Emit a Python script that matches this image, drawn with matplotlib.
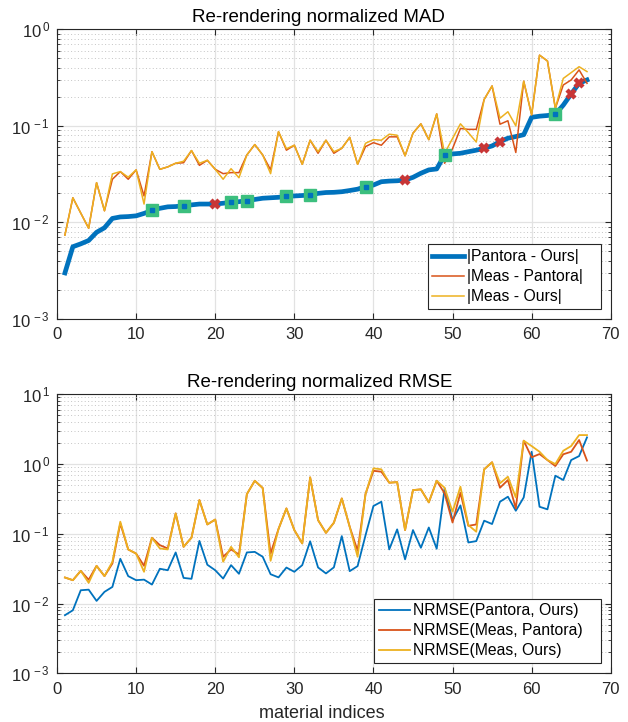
import numpy as np
import matplotlib
matplotlib.use('Agg')
import matplotlib.pyplot as plt
from matplotlib.ticker import LogLocator, NullFormatter, FuncFormatter

plt.rcParams['font.family'] = ['Liberation Sans', 'DejaVu Sans']
plt.rcParams['mathtext.fontset'] = 'custom'
plt.rcParams['mathtext.rm'] = 'Liberation Sans'
plt.rcParams['mathtext.it'] = 'Liberation Sans'
plt.rcParams['mathtext.default'] = 'regular'

# indices des matériaux
idx = np.arange(1, 68)

# --- MAD normalisé ---
mad_pantora_ours = [0.0030, 0.0056, 0.0060, 0.0065, 0.0079, 0.0088, 0.0110, 0.0114, 0.0115, 0.0117,
                    0.0124, 0.0133, 0.0140, 0.0145, 0.0146, 0.0149, 0.0152, 0.0155, 0.0155, 0.0155,
                    0.0158, 0.0162, 0.0164, 0.0168, 0.0173, 0.0178, 0.0180, 0.0182, 0.0187, 0.0188,
                    0.0190, 0.0192, 0.0200, 0.0204, 0.0205, 0.0208, 0.0214, 0.0221, 0.0235, 0.0244,
                    0.0264, 0.0268, 0.0270, 0.0275, 0.0293, 0.0323, 0.0350, 0.0358, 0.0500, 0.0512,
                    0.0520, 0.0540, 0.0560, 0.0586, 0.0620, 0.0687, 0.0745, 0.0775, 0.0810, 0.1226,
                    0.1260, 0.1280, 0.1320, 0.1640, 0.2140, 0.2760, 0.2990]
mad_meas_pantora = [0.0074, 0.018, 0.0125, 0.0087, 0.0258, 0.0132, 0.028, 0.0336, 0.028, 0.035,
                    0.0188, 0.054, 0.0355, 0.0376, 0.041, 0.0415, 0.0555, 0.039, 0.044, 0.0355,
                    0.032, 0.0328, 0.0328, 0.050, 0.064, 0.050, 0.035, 0.087, 0.056, 0.063,
                    0.040, 0.071, 0.052, 0.071, 0.052, 0.0586, 0.076, 0.040, 0.061, 0.067,
                    0.063, 0.077, 0.077, 0.049, 0.084, 0.105, 0.072, 0.133, 0.041, 0.058,
                    0.094, 0.092, 0.092, 0.188, 0.259, 0.104, 0.113, 0.053, 0.290, 0.130,
                    0.540, 0.470, 0.152, 0.265, 0.299, 0.380, 0.276]
mad_meas_ours = [0.0074, 0.018, 0.0125, 0.0087, 0.0258, 0.0132, 0.0318, 0.0336, 0.0294, 0.035,
                 0.0155, 0.054, 0.0355, 0.0376, 0.041, 0.043, 0.0555, 0.041, 0.044, 0.0355,
                 0.028, 0.036, 0.029, 0.050, 0.064, 0.050, 0.032, 0.087, 0.058, 0.063,
                 0.040, 0.071, 0.054, 0.071, 0.054, 0.0586, 0.076, 0.040, 0.066, 0.072,
                 0.071, 0.082, 0.080, 0.049, 0.084, 0.105, 0.072, 0.133, 0.052, 0.074,
                 0.105, 0.085, 0.068, 0.188, 0.259, 0.120, 0.140, 0.100, 0.290, 0.130,
                 0.540, 0.470, 0.152, 0.310, 0.356, 0.410, 0.365]
green_idx = [12, 16, 22, 24, 29, 32, 39, 49, 63]
red_idx = [20, 44, 54, 56, 65, 66]

# --- RMSE normalisé ---
rmse_pantora_ours = [0.0068, 0.0080, 0.0155, 0.0158, 0.0109, 0.0147, 0.0173, 0.0438, 0.0247, 0.0216,
                     0.0220, 0.0187, 0.0315, 0.0300, 0.0540, 0.0233, 0.0226, 0.0790, 0.0360, 0.0300,
                     0.0228, 0.0355, 0.0267, 0.0540, 0.0550, 0.0468, 0.0263, 0.0237, 0.0328, 0.0285,
                     0.0355, 0.0780, 0.0329, 0.0270, 0.0330, 0.0926, 0.0291, 0.0344, 0.0950, 0.250,
                     0.288, 0.0597, 0.1156, 0.043, 0.113, 0.063, 0.123, 0.061, 0.448, 0.157,
                     0.255, 0.075, 0.0785, 0.154, 0.138, 0.288, 0.340, 0.214, 0.332, 1.50,
                     0.244, 0.224, 0.680, 0.590, 1.14, 1.30, 2.41]
rmse_meas_pantora = [0.0236, 0.0216, 0.0294, 0.0219, 0.0347, 0.0247, 0.0375, 0.141, 0.0596, 0.052,
                     0.0347, 0.0876, 0.0687, 0.0616, 0.196, 0.065, 0.088, 0.304, 0.136, 0.160,
                     0.0468, 0.0596, 0.0505, 0.370, 0.576, 0.453, 0.052, 0.117, 0.231, 0.113,
                     0.0727, 0.644, 0.157, 0.103, 0.144, 0.321, 0.126, 0.057, 0.371, 0.800,
                     0.776, 0.540, 0.550, 0.113, 0.423, 0.433, 0.282, 0.576, 0.380, 0.145,
                     0.388, 0.130, 0.136, 0.840, 1.06, 0.457, 0.589, 0.231, 2.16, 1.25,
                     1.39, 1.14, 0.936, 1.38, 1.50, 2.21, 1.12]
rmse_meas_ours = [0.0236, 0.0216, 0.0294, 0.0198, 0.0347, 0.0247, 0.0397, 0.149, 0.0596, 0.052,
                  0.0285, 0.0876, 0.0616, 0.0596, 0.196, 0.065, 0.088, 0.304, 0.136, 0.160,
                  0.0397, 0.065, 0.046, 0.370, 0.576, 0.453, 0.041, 0.117, 0.231, 0.113,
                  0.0727, 0.644, 0.157, 0.103, 0.144, 0.321, 0.126, 0.0468, 0.371, 0.867,
                  0.840, 0.540, 0.550, 0.113, 0.423, 0.433, 0.282, 0.576, 0.457, 0.207,
                  0.473, 0.133, 0.107, 0.840, 1.06, 0.530, 0.658, 0.332, 2.16, 1.81,
                  1.50, 1.14, 1.00, 1.55, 1.81, 2.60, 2.60]

c_blue = '#0072BD'
c_red = '#D95319'
c_yellow = '#EDB120'
c_green = '#3CBF7E'
c_x = '#C83636'


def log_label(v, pos):
    # estilo MATLAB: 10 com expoente separado
    return r'$10^{\,%d}$' % int(round(np.log10(v)))


def style_axes(ax, ymin, ymax):
    ax.set_yscale('log')
    ax.set_xlim(0, 70)
    ax.set_ylim(ymin, ymax)
    ax.set_xticks(range(0, 71, 10))
    ax.yaxis.set_major_locator(LogLocator(base=10, numticks=10))
    ax.yaxis.set_major_formatter(FuncFormatter(log_label))
    ax.yaxis.set_minor_locator(LogLocator(base=10, subs=np.arange(2, 10), numticks=20))
    ax.yaxis.set_minor_formatter(NullFormatter())
    ax.set_axisbelow(True)
    ax.grid(True, which='major', color='#e2e2e2', linewidth=0.9, linestyle='-')
    ax.grid(True, which='minor', axis='y', color='#c4c4c4', linewidth=0.7, linestyle=(0, (1, 2.5)))
    ax.tick_params(which='both', direction='in', top=True, right=True, color='0.15',
                   labelcolor='0.15', labelsize=12)
    ax.tick_params(which='major', length=4)
    ax.tick_params(axis='x', which='major', pad=6)
    ax.tick_params(axis='y', which='major', pad=5)
    ax.tick_params(which='minor', length=2.5)
    for s in ax.spines.values():
        s.set_color('0.15')
        s.set_linewidth(0.8)


leg_kw = dict(loc='lower right', fontsize=11.3, fancybox=False, framealpha=1,
              edgecolor='0.15', borderaxespad=0.65, handlelength=2.0,
              handletextpad=0.2, labelspacing=0.32, borderpad=0.3)

fig = plt.figure(figsize=(6.28, 7.22), dpi=100)

# Gráfico superior
ax1 = fig.add_axes([0.0908, 0.5582, 0.8817, 0.4012])
style_axes(ax1, 1e-3, 1e0)
mpo = np.array(mad_pantora_ours)
ax1.plot(idx, mpo, color=c_blue, linewidth=3.4, label='|Pantora - Ours|   ')
ax1.plot(idx, mad_meas_pantora, color=c_red, linewidth=1.1, label='|Meas - Pantora|   ')
ax1.plot(idx, mad_meas_ours, color=c_yellow, linewidth=1.1, label='|Meas - Ours|   ')
g = np.array(green_idx)
r = np.array(red_idx)
ax1.plot(g, mpo[g - 1], 's', ms=8, color=c_green, mec=c_green)
ax1.plot(g, mpo[g - 1], 's', ms=2.2, color=c_blue, mec=c_blue)
ax1.plot(r, mpo[r - 1], 'x', ms=6, mew=3.2, color=c_x)
ax1.set_title('Re-rendering normalized MAD', fontsize=13.5, pad=5, x=0.472)
leg1 = ax1.legend(**leg_kw)
leg1.get_frame().set_linewidth(0.8)

# Gráfico inferior
ax2 = fig.add_axes([0.0908, 0.0675, 0.8817, 0.3864])
style_axes(ax2, 1e-3, 1e1)
ax2.plot(idx, rmse_pantora_ours, color=c_blue, linewidth=1.3, label='NRMSE(Pantora, Ours)   ')
ax2.plot(idx, rmse_meas_pantora, color=c_red, linewidth=1.3, label='NRMSE(Meas, Pantora)   ')
ax2.plot(idx, rmse_meas_ours, color=c_yellow, linewidth=1.3, label='NRMSE(Meas, Ours)   ')
ax2.set_title('Re-rendering normalized RMSE', fontsize=13.5, pad=5, x=0.475)
ax2.set_xlabel('material indices', fontsize=13, color='0.15', labelpad=4)
ax2.xaxis.set_label_coords(0.479, -0.112)
leg2 = ax2.legend(**leg_kw)
leg2.get_frame().set_linewidth(0.8)

fig.savefig('out.png', dpi=100)
